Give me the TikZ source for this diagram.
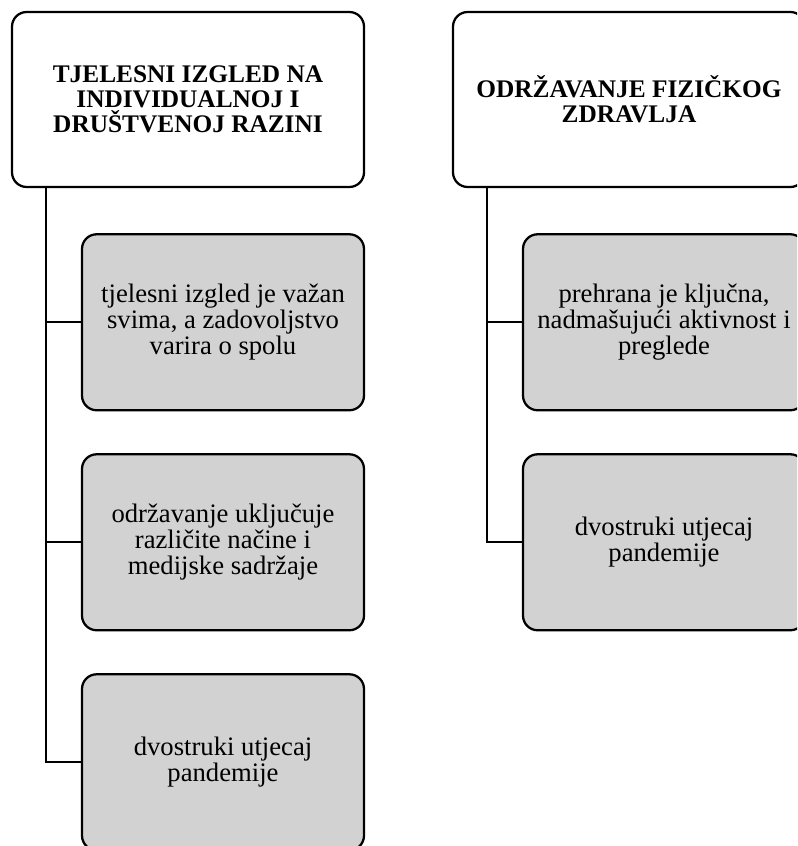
\documentclass[tikz,border=0pt]{standalone}
\usepackage{fontspec}
\setmainfont{Liberation Serif}
\usetikzlibrary{positioning}
\definecolor{boxgray}{RGB}{210,210,210}
\tikzset{
  topic/.style={draw, rounded corners=11pt, line width=1.7pt, fill=white, align=center,
    minimum width=264pt, minimum height=131.25pt, font=\fontsize{19pt}{18.8pt}\selectfont\bfseries},
  sub/.style={draw, rounded corners=11pt, line width=1.7pt, fill=boxgray, align=center,
    minimum width=211.5pt, minimum height=132pt, font=\fontsize{20pt}{19.5pt}\selectfont},
  conn/.style={line width=1.7pt}
}
\begin{document}
\begin{tikzpicture}[x=0.75pt, y=-0.75pt, node distance=33pt]
\clip[use as bounding box] (0,0) rectangle (797,846);
\node[topic] (TB) at (188,99.5) {TJELESNI IZGLED NA\\INDIVIDUALNOJ I\\DRUŠTVENOJ RAZINI};
\node[topic] (FZ) at (629,99.5) {ODRŽAVANJE FIZIČKOG\\ZDRAVLJA};
\node[sub, below=33.75pt of TB, xshift=26.25pt] (TB1) {tjelesni izgled je važan\\svima, a zadovoljstvo\\varira o spolu};
\node[sub, below of=TB1, node distance=165pt] (TB2) {održavanje uključuje\\različite načine i\\medijske sadržaje};
\node[sub, below of=TB2, node distance=165pt] (TB3) {dvostruki utjecaj\\pandemije};
\node[sub, below=33.75pt of FZ, xshift=26.25pt] (FZ1) {prehrana je ključna,\\nadmašujući aktivnost i\\preglede};
\node[sub, below of=FZ1, node distance=165pt] (FZ2) {dvostruki utjecaj\\pandemije};
\draw[conn] ([xshift=26.25pt]TB.south west) |- (TB1.west)
            ([xshift=26.25pt]TB.south west) |- (TB2.west)
            ([xshift=26.25pt]TB.south west) |- (TB3.west);
\draw[conn] ([xshift=26.25pt]FZ.south west) |- (FZ1.west)
            ([xshift=26.25pt]FZ.south west) |- (FZ2.west);
\end{tikzpicture}
\end{document}
